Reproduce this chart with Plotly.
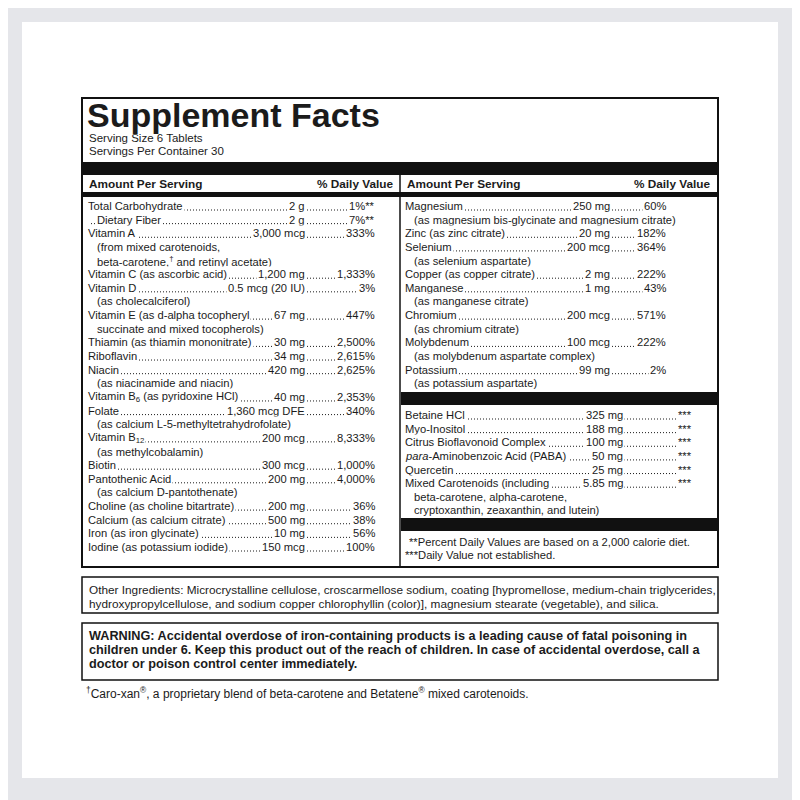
import plotly.graph_objects as go

FONT = "Liberation Sans, Arial"
INK = "#1b1b1b"
BS = 11.2  # body size

left_names = ["Total Carbohydrate", "Dietary Fiber", "Vitamin A", "(from mixed carotenoids,",
              "beta-carotene,<sup>†</sup> and retinyl acetate)", "Vitamin C (as ascorbic acid)", "Vitamin D",
              "(as cholecalciferol)", "Vitamin E (as d-alpha tocopheryl", "succinate and mixed tocopherols)",
              "Thiamin (as thiamin mononitrate)", "Riboflavin", "Niacin", "(as niacinamide and niacin)",
              "Vitamin B<sub>6</sub> (as pyridoxine HCl)", "Folate", "(as calcium L-5-methyltetrahydrofolate)",
              "Vitamin B<sub>12</sub>", "(as methylcobalamin)", "Biotin", "Pantothenic Acid",
              "(as calcium D-pantothenate)", "Choline (as choline bitartrate)", "Calcium (as calcium citrate)",
              "Iron (as iron glycinate)", "Iodine (as potassium iodide)"]
left_amounts = ["2 g", "2 g", "3,000 mcg", "", "", "1,200 mg", "0.5 mcg (20 IU)", "", "67 mg", "",
                "30 mg", "34 mg", "420 mg", "", "40 mg", "1,360 mcg DFE", "", "200 mcg", "", "300 mcg",
                "200 mg", "", "200 mg", "500 mg", "10 mg", "150 mcg"]
left_dv = ["1%**", "7%**", "333%", "", "", "1,333%", "3%", "", "447%", "", "2,500%", "2,615%", "2,625%", "",
           "2,353%", "340%", "", "8,333%", "", "1,000%", "4,000%", "", "36%", "38%", "56%", "100%"]
left_indent = [0, 1, 0, 1, 1, 0, 0, 1, 0, 1, 0, 0, 0, 1, 0, 0, 1, 0, 1, 0, 0, 1, 0, 0, 0, 0]

right_names = ["Magnesium", "(as magnesium bis-glycinate and magnesium citrate)", "Zinc (as zinc citrate)",
               "Selenium", "(as selenium aspartate)", "Copper (as copper citrate)", "Manganese",
               "(as manganese citrate)", "Chromium", "(as chromium citrate)", "Molybdenum",
               "(as molybdenum aspartate complex)", "Potassium", "(as potassium aspartate)"]
right_amounts = ["250 mg", "", "20 mg", "200 mcg", "", "2 mg", "1 mg", "", "200 mcg", "", "100 mcg", "", "99 mg", ""]
right_dv = ["60%", "", "182%", "364%", "", "222%", "43%", "", "571%", "", "222%", "", "2%", ""]
right_indent = [0, 1, 0, 0, 1, 0, 0, 1, 0, 1, 0, 1, 0, 1]

other_names = ["Betaine HCl", "Myo-Inositol", "Citrus Bioflavonoid Complex", "<i>para</i>-Aminobenzoic Acid (PABA)",
               "Quercetin", "Mixed Carotenoids (including", "beta-carotene, alpha-carotene,",
               "cryptoxanthin, zeaxanthin, and lutein)"]
other_amounts = ["325 mg", "188 mg", "100 mg", "50 mg", "25 mg", "5.85 mg", "", ""]
other_dv = ["***", "***", "***", "***", "***", "***", "", ""]
other_indent = [0, 0, 0, 0, 0, 0, 1, 1]

fig = go.Figure()
shapes = []
ann = []

def txt(x, y, t, size=BS, bold=False, anchor="left", bg=None, color=INK, family=FONT):
    if bold:
        t = "<b>" + t + "</b>"
    d = dict(x=x, y=y, xref="x", yref="y", text=t, showarrow=False, xanchor=anchor, yanchor="middle",
             font=dict(family=family, size=size, color=color), borderpad=1)
    if bg:
        d["bgcolor"] = bg
    ann.append(d)

def rect(x0, y0, x1, y1, fill=None, line=None, lw=0):
    shapes.append(dict(type="rect", xref="x", yref="y", x0=x0, y0=y0, x1=x1, y1=y1,
                       fillcolor=fill or "rgba(0,0,0,0)", line=dict(color=line or "rgba(0,0,0,0)", width=lw), layer="below"))

rect(22, 22, 778, 778, fill="white")

rect(82, 98, 718, 567, line="#111", lw=2)
txt(85, 115, "Supplement Facts", size=34, bold=True)
txt(87, 138, "Serving Size 6 Tablets", size=11.5)
txt(87, 151, "Servings Per Container 30", size=11.5)
rect(83, 162, 717, 175, fill="#111")
rect(83, 192, 717, 197, fill="#111")
shapes.append(dict(type="line", xref="x", yref="y", x0=400, x1=400, y0=175, y1=566, line=dict(color="#111", width=1.5)))
txt(87, 184, "Amount Per Serving", bold=True, size=11.8)
txt(396, 184, "% Daily Value", bold=True, anchor="right", size=11.8)
txt(405, 184, "Amount Per Serving", bold=True, size=11.8)
txt(713, 184, "% Daily Value", bold=True, anchor="right", size=11.8)

STEP = 13.64

def column(names, amounts, dvs, indents, x0, xa, xd, y0):
    for i, n in enumerate(names):
        y = y0 + i * STEP
        if amounts[i]:
            shapes.append(dict(type="line", xref="x", yref="y", x0=x0 + 5, x1=xd - 3, y0=y + 4, y1=y + 4,
                               line=dict(color=INK, width=1, dash="1px,2px")))
            txt(xa, y, amounts[i], anchor="right", bg="white")
            txt(xd, y, dvs[i], anchor="right", bg="white")
        txt(x0 + (9 if indents[i] else 0), y, n, anchor="left", bg="white")

column(left_names, left_amounts, left_dv, left_indent, 86, 307, 377, 206)
column(right_names, right_amounts, right_dv, right_indent, 403, 612, 668, 206)
rect(401, 392, 717, 405, fill="#111")
column(other_names, other_amounts, other_dv, other_indent, 403, 625, 694, 415)
rect(401, 518, 717, 531, fill="#111")
txt(407, 542, "**Percent Daily Values are based on a 2,000 calorie diet.")
txt(403, 555, "***Daily Value not established.")

rect(82, 577, 718, 613, line="#111", lw=1.5)
txt(87, 590, "Other Ingredients: Microcrystalline cellulose, croscarmellose sodium, coating [hypromellose, medium-chain triglycerides,", size=11.8)
txt(87, 604, "hydroxypropylcellulose, and sodium copper chlorophyllin (color)], magnesium stearate (vegetable), and silica.", size=11.8)

rect(82, 623, 718, 680, line="#111", lw=1.5)
txt(87, 636, "WARNING: Accidental overdose of iron-containing products is a leading cause of fatal poisoning in", bold=True, size=12.7)
txt(87, 650, "children under 6. Keep this product out of the reach of children. In case of accidental overdose, call a", bold=True, size=12.7)
txt(87, 664, "doctor or poison control center immediately.", bold=True, size=12.7)

txt(84, 693, "<sup>†</sup>Caro-xan<sup>®</sup>, a proprietary blend of beta-carotene and Betatene<sup>®</sup> mixed carotenoids.", size=12)

fig.update_layout(width=800, height=800, margin=dict(l=0, r=0, t=0, b=0),
                  paper_bgcolor="#e5e6ea", plot_bgcolor="#e5e6ea", shapes=shapes, annotations=ann,
                  xaxis=dict(range=[8, 808], visible=False, fixedrange=True),
                  yaxis=dict(range=[808, 8], visible=False, fixedrange=True), showlegend=False)
fig.write_html("out.html")
